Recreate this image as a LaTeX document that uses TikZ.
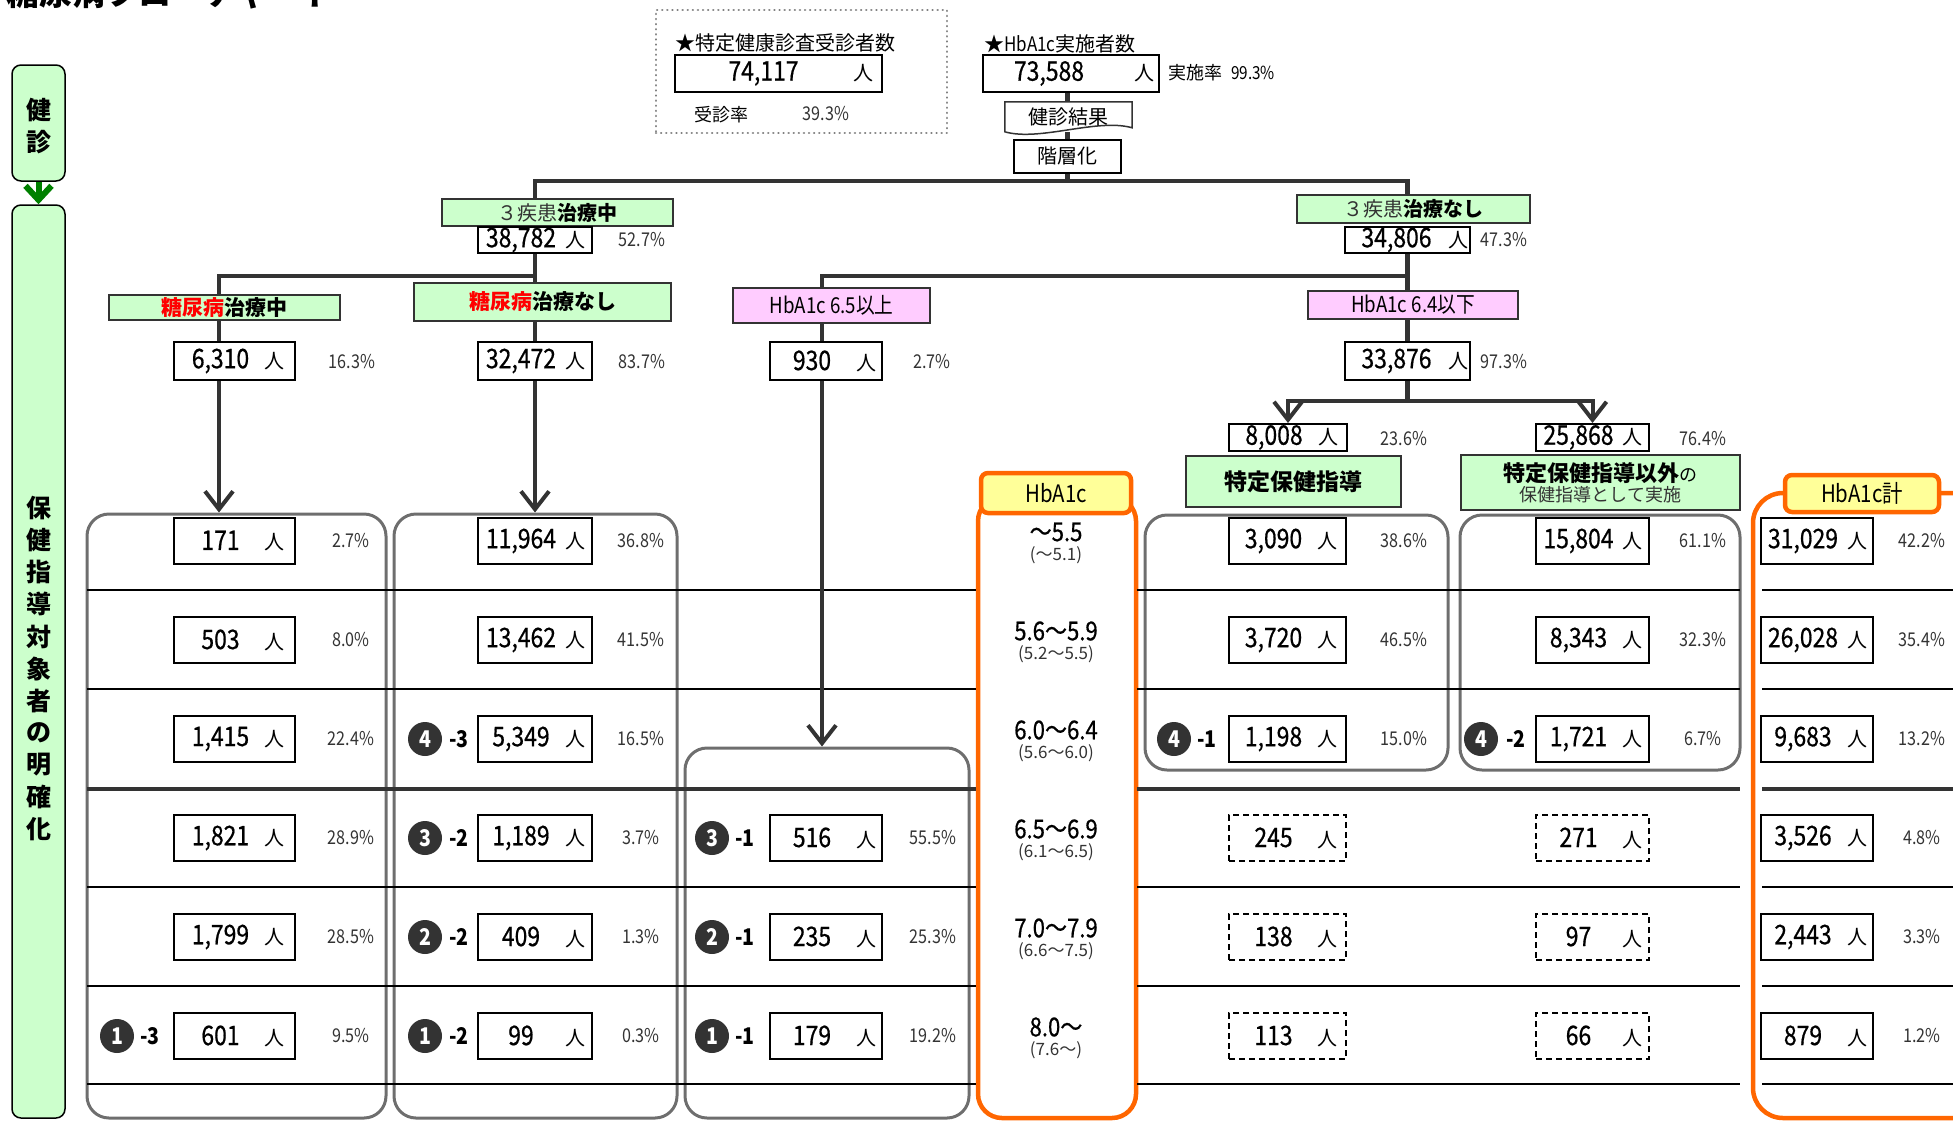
\documentclass[tikz,border=0pt]{standalone}
\usepackage{fontspec}
\setmainfont{Noto Sans CJK JP}
\newfontfamily\numfont[FakeStretch=0.85]{Noto Sans CJK JP}
\newfontfamily\cntfont[FakeStretch=0.85,FakeBold=0.6]{Noto Sans CJK JP}
\usetikzlibrary{arrows.meta,positioning,calc}
\definecolor{kgreen}{HTML}{CCFFCC}
\definecolor{kdgreen}{HTML}{008000}
\definecolor{kpink}{HTML}{FFCCFF}
\definecolor{kyellow}{HTML}{FFFF99}
\definecolor{korange}{HTML}{FF6600}
\definecolor{kline}{HTML}{333333}
\definecolor{kgroup}{HTML}{6E6E6E}
\definecolor{kdot}{HTML}{808080}
% number box content: count + unit
\newcommand{\ppl}[1]{\makebox[80pt]{\cntfont\fontsize{27}{27}\selectfont #1}\makebox[28pt]{\fontsize{20}{20}\selectfont 人}\hspace{6pt}}
\newcommand{\pplw}[1]{\makebox[102pt]{\cntfont\fontsize{27}{27}\selectfont #1}\makebox[22pt]{\fontsize{20}{20}\selectfont 人}}

\begin{document}
\begin{tikzpicture}[x=1pt,y=-1pt,
  conn/.style={draw=kline, line width=4.5pt},
  arr/.style={conn, line width=4pt, -{Straight Barb[length=18pt,width=28pt]}},
  cnt/.style={draw=black, line width=2pt, fill=white, inner sep=0pt, minimum height=46pt},
  cntd/.style={cnt, dash pattern=on 6pt off 4pt},
  pct/.style={text=kline, inner sep=0pt, font=\numfont\fontsize{19}{19}\selectfont},
  lab/.style={draw=kline, line width=1.5pt, inner sep=0pt},
  grp/.style={draw=kgroup, line width=3pt, rounded corners=22pt, inner sep=0pt},
  ocol/.style={draw=korange, line width=4.5pt, rounded corners=24pt, inner sep=0pt},
  otag/.style={draw=korange, line width=4.5pt, fill=kyellow, rounded corners=7pt, inner sep=0pt, font=\numfont\fontsize{24}{24}\selectfont},
  badge/.style={circle, fill=kline, text=white, inner sep=0pt, minimum size=34pt, font=\numfont\bfseries\fontsize{23}{23}\selectfont},
  bsuf/.style={inner sep=0pt, font=\numfont\bfseries\fontsize{23}{23}\selectfont},
  hmain/.style={inner sep=0pt, font=\cntfont\fontsize{26}{26}\selectfont},
  hsub/.style={inner sep=0pt, text=kline, font=\fontsize{17}{17}\selectfont},
  vchar/.style={inner sep=0pt, font=\bfseries\fontsize{25}{25}\selectfont},
  sidebar/.style={draw=black, line width=1.5pt, fill=kgreen, rounded corners=9pt, inner sep=0pt, minimum width=53pt},
  rowline/.style={draw=black, line width=2pt},
  rowthick/.style={draw=kline, line width=4.5pt},
]
\useasboundingbox (0,0) rectangle (1953,1122);

% title (cut at the top edge)
\node[anchor=base west, inner sep=0pt, font=\bfseries\fontsize{33}{33}\selectfont] (title) at (6,5) {糖尿病フローチャート};

% side bars
\node[sidebar, minimum height=116pt] (kenshin) at (38.5,123) {};
\node[sidebar, minimum height=913pt] (taisho) at (38.5,661.5) {};
\foreach \c [count=\i] in {健,診}
  \node[vchar] (kc\i) at (38.5,{78+32*\i}) {\c};
\foreach \c [count=\i] in {保,健,指,導,対,象,者,の,明,確,化}
  \node[vchar] (tc\i) at (38.5,{476+32.1*\i}) {\c};
\draw[draw=kdgreen, line width=6pt, -{Straight Barb[length=14pt,width=26pt]}] (kenshin.south) -- (taisho.north);

% groups and HbA1c columns
\node[grp, minimum width=299pt, minimum height=604pt] (grpA) at (236.5,816) {};
\node[grp, minimum width=283pt, minimum height=604pt] (grpB) at (535.5,816) {};
\node[grp, minimum width=284pt, minimum height=370pt] (grpC) at (827,933) {};
\node[grp, minimum width=303pt, minimum height=255pt] (grpD) at (1296.5,642.5) {};
\node[grp, minimum width=280pt, minimum height=255pt] (grpE) at (1600,642.5) {};
\node[ocol, minimum width=158pt, minimum height=621pt] (colH) at (1057,807.5) {};
\node[ocol, rounded corners=30pt, minimum width=237pt, minimum height=625pt] (colT) at (1871.5,805.5) {};

% table rows
\foreach \y in {590,689,887,986,1084}{
  \draw[rowline] (87,\y) -- (976,\y);
  \draw[rowline] (1137,\y) -- (1740,\y);
  \draw[rowline] (1762,\y) -- (1953,\y);
}
\draw[rowthick] (87,789) -- (976,789);
\draw[rowthick] (1137,789) -- (1740,789);
\draw[rowthick] (1762,789) -- (1953,789);

% top: examinees
\node[draw=kdot, line width=2.5pt, dash pattern=on 0.1pt off 5pt, line cap=round, minimum width=291pt, minimum height=123pt, inner sep=0pt] (jushin) at (801.5,71.5) {};
\node[anchor=west, inner sep=0pt, font=\fontsize{20}{20}\selectfont] (jtitle) at (675,43) {★特定健康診査受診者数};
\node[cnt, minimum width=207pt, minimum height=37pt] (n74117) at (778.5,73.5)
  {\makebox[170pt]{\cntfont\fontsize{27}{27}\selectfont 74,117}\makebox[30pt]{\fontsize{20}{20}\selectfont 人}};
\node[inner sep=0pt, font=\fontsize{18}{18}\selectfont] (jrate) at (721,115) {受診率};
\node[pct] (jpct) at (826,114) {39.3\%};

\node[anchor=west, inner sep=0pt, font=\fontsize{20}{20}\selectfont] (htitle) at (984,44) {★{\numfont HbA1c}実施者数};
\node[cnt, minimum width=176pt, minimum height=37pt] (n73588) at (1071,73.5)
  {\makebox[132pt]{\cntfont\fontsize{27}{27}\selectfont 73,588}\hspace{14pt}\makebox[30pt]{\fontsize{20}{20}\selectfont 人}};
\node[anchor=west, inner sep=0pt, font=\fontsize{18}{18}\selectfont] (hrate) at (1168,73) {実施率\hspace{9pt}{\numfont 99.3\%}};

\node[minimum width=127pt, minimum height=30pt, inner sep=0pt, font=\fontsize{19}{19}\selectfont] (kekka) at (1068.5,117) {健診結果};
\draw[draw=kline, line width=1.5pt, fill=white] (kekka.north west) -- (kekka.north east) -- ++(0,26)
  .. controls +(-35,-10) and +(35,10) .. ($(kekka.north west)+(0,30)$) -- cycle;
\node[inner sep=0pt, font=\fontsize{20}{20}\selectfont] at (kekka) {健診結果};
\node[draw=black, line width=1.5pt, fill=white, minimum width=107pt, minimum height=33pt, inner sep=0pt, font=\fontsize{20}{20}\selectfont] (kaiso) at (1067.5,156.5) {階層化};
\coordinate (bar) at (1067.5,181);

% stratification labels
\node[lab, fill=kgreen, minimum width=231pt, minimum height=27pt, font=\fontsize{20}{20}\selectfont] (chu) at (557.5,212.5) {{\color{kline}３疾患}\textbf{治療中}};
\node[cnt, minimum width=114pt, minimum height=26pt] (n38782) at (535,240) {\ppl{38,782}};
\node[pct] (p38782) at (642,240) {52.7\%};
\node[lab, fill=kgreen, minimum width=233pt, minimum height=28pt, font=\fontsize{20}{20}\selectfont] (nashi) at (1413.5,209) {{\color{kline}３疾患}\textbf{治療なし}};
\node[cnt, minimum width=125pt, minimum height=26pt] (n34806) at (1407.5,240) {\pplw{34,806}};
\node[pct] (p34806) at (1504,240) {47.3\%};

\node[lab, fill=kgreen, minimum width=231pt, minimum height=25pt, font=\bfseries\fontsize{21}{21}\selectfont] (chudm) at (224.5,307.5) {\textcolor{red}{糖尿病}治療中};
\node[lab, fill=kgreen, minimum width=257pt, minimum height=38pt, font=\bfseries\fontsize{21}{21}\selectfont] (nashidm) at (542.5,302) {\textcolor{red}{糖尿病}治療なし};
\node[lab, fill=kpink, minimum width=197pt, minimum height=35pt, font=\numfont\fontsize{22}{22}\selectfont] (hb65) at (831.5,305.5) {HbA1c 6.5以上};
\node[lab, fill=kpink, minimum width=210pt, minimum height=28pt, font=\numfont\fontsize{22}{22}\selectfont] (hb64) at (1413,305) {HbA1c 6.4以下};

\node[cnt, minimum width=121pt, minimum height=38pt] (n6310) at (234.5,361) {\ppl{6,310}};
\node[pct] (p6310) at (352,362) {16.3\%};
\node[cnt, minimum width=114pt, minimum height=38pt] (n32472) at (535,361) {\ppl{32,472}};
\node[pct] (p32472) at (642,362) {83.7\%};
\node[cnt, minimum width=112pt, minimum height=38pt] (n930) at (826,361) {\ppl{930}};
\node[pct] (p930) at (932,362) {2.7\%};
\node[cnt, minimum width=125pt, minimum height=38pt] (n33876) at (1407.5,361) {\pplw{33,876}};
\node[pct] (p33876) at (1504,362) {97.3\%};

\node[cnt, minimum width=118pt, minimum height=27pt] (n8008) at (1288,437.5) {\ppl{8,008}};
\node[pct] (p8008) at (1404,439) {23.6\%};
\node[cnt, minimum width=113pt, minimum height=27pt] (n25868) at (1592.5,437.5) {\ppl{25,868}};
\node[pct] (p25868) at (1703,439) {76.4\%};
\node[lab, fill=kgreen, minimum width=215pt, minimum height=51pt, font=\bfseries\fontsize{23}{23}\selectfont] (tokutei) at (1293.5,481.5) {特定保健指導};
\node[lab, fill=kgreen, minimum width=279pt, minimum height=55pt, align=center, font=\fontsize{22}{22}\selectfont] (igai) at (1600.5,482.5)
  {\textbf{特定保健指導以外}{\fontsize{18}{18}\selectfont の}\\[-2pt]{\color{kline}\fontsize{18}{18}\selectfont 保健指導として実施}};

% column A: diabetes under treatment
\foreach \n/\p [count=\i] in {171/2.7, 503/8.0, {1,415}/22.4, {1,821}/28.9, {1,799}/28.5, 601/9.5}{
  \node[cnt, minimum width=121pt] (a\i) at (234.5,{442+99*\i}) {\ppl{\n}};
  \node[pct] (pa\i) at (351,{442+99*\i}) {\p\%};
}
% column B: diabetes not under treatment
\foreach \n/\p [count=\i] in {{11,964}/36.8, {13,462}/41.5, {5,349}/16.5, {1,189}/3.7, 409/1.3, 99/0.3}{
  \node[cnt, minimum width=114pt] (b\i) at (535,{442+99*\i}) {\ppl{\n}};
  \node[pct] (pb\i) at (641,{442+99*\i}) {\p\%};
}
% column C: HbA1c 6.5 or more
\foreach \n/\p [count=\i from 4] in {516/55.5, 235/25.3, 179/19.2}{
  \node[cnt, minimum width=112pt] (c\i) at (826,{442+99*\i}) {\ppl{\n}};
  \node[pct] (pc\i) at (933,{442+99*\i}) {\p\%};
}
% HbA1c ranges
\foreach \m/\s [count=\i] in {～5.5/～5.1, 5.6～5.9/5.2～5.5, 6.0～6.4/5.6～6.0, 6.5～6.9/6.1～6.5, 7.0～7.9/6.6～7.5, 8.0～/7.6～}{
  \node[hmain] (hm\i) at (1056,{433+99*\i}) {\m};
  \node[hsub] (hs\i) at (1056,{456+99*\i}) {(\s)};
}
% column D: specific health guidance
\foreach \n/\p [count=\i] in {{3,090}/38.6, {3,720}/46.5, {1,198}/15.0}{
  \node[cnt, minimum width=117pt] (d\i) at (1287.5,{442+99*\i}) {\ppl{\n}};
  \node[pct] (pd\i) at (1404,{442+99*\i}) {\p\%};
}
\foreach \n [count=\i from 4] in {245,138,113}
  \node[cntd, minimum width=117pt] (d\i) at (1287.5,{442+99*\i}) {\ppl{\n}};
% column E: other guidance
\foreach \n/\p [count=\i] in {{15,804}/61.1, {8,343}/32.3, {1,721}/6.7}{
  \node[cnt, minimum width=113pt] (e\i) at (1592.5,{442+99*\i}) {\ppl{\n}};
  \node[pct] (pe\i) at (1703,{442+99*\i}) {\p\%};
}
\foreach \n [count=\i from 4] in {271,97,66}
  \node[cntd, minimum width=113pt] (e\i) at (1592.5,{442+99*\i}) {\ppl{\n}};
% column F: HbA1c total
\foreach \n/\p [count=\i] in {{31,029}/42.2, {26,028}/35.4, {9,683}/13.2, {3,526}/4.8, {2,443}/3.3, 879/1.2}{
  \node[cnt, minimum width=112pt] (f\i) at (1817,{442+99*\i}) {\ppl{\n}};
  \node[pct] (pf\i) at (1922,{442+99*\i}) {\p\%};
}

% badges
\node[badge] (ba6) at (117,1036) {1};
\node[bsuf] (sa6) at (150,1036) {-3};
\foreach \d/\s/\i in {4/3/3, 3/2/4, 2/2/5, 1/2/6}{
  \node[badge] (bb\i) at (425,{442+99*\i}) {\d};
  \node[bsuf] (sb\i) at (459,{442+99*\i}) {-\s};
}
\foreach \d/\i in {3/4, 2/5, 1/6}{
  \node[badge] (bc\i) at (712,{442+99*\i}) {\d};
  \node[bsuf] (sc\i) at (745,{442+99*\i}) {-1};
}
\node[badge] (bd3) at (1174,739) {4};
\node[bsuf] (sd3) at (1207,739) {-1};
\node[badge] (be3) at (1481,739) {4};
\node[bsuf] (se3) at (1516,739) {-2};

% column tags
\node[otag, minimum width=150pt, minimum height=40pt] (tagH) at (1056,493) {HbA1c};
\node[otag, minimum width=154pt, minimum height=37pt] (tagT) at (1862,493.5) {HbA1c計};

% connectors
\coordinate (jA) at (219,276);
\coordinate (jC) at (822,276);
\draw[conn] (kaiso |- n73588.south) -- (kaiso |- kekka.north);
\draw[conn] (kaiso |- kekka.south) -- (kaiso.north);
\draw[conn] (kaiso.south) -- (bar);
\draw[conn] (chu.north -| n38782) |- (bar) -| (nashi.north -| n34806);
\draw[conn] (n38782.south) -- (n38782.south |- nashidm.north);
\draw[conn] (n38782.south |- jA) -- (jA) -- (jA |- chudm.north);
\draw[conn] (nashidm.south -| n32472) -- (n32472.north);
\draw[conn] (chudm.south -| jA) -- (jA |- n6310.north);
\draw[arr] (jA |- n6310.south) -- (jA |- grpA.north);
\draw[arr] (n32472.south) -- (n32472.south |- grpB.north);
\draw[conn] (n34806.south) -- (n34806.south |- hb64.north);
\draw[conn] (jC -| n34806) -- (jC) -- (jC |- hb65.north);
\draw[conn] (hb65.south -| jC) -- (jC |- n930.north);
\draw[arr] (jC |- n930.south) -- (jC |- grpC.north);
\draw[conn] (hb64.south -| n33876) -- (n33876.north);
\draw[conn] (n33876.south) -- ++(0,20) coordinate (split);
\draw[arr] (split) -| (n8008.north);
\draw[arr] (split) -| (n25868.north);
\end{tikzpicture}
\end{document}
